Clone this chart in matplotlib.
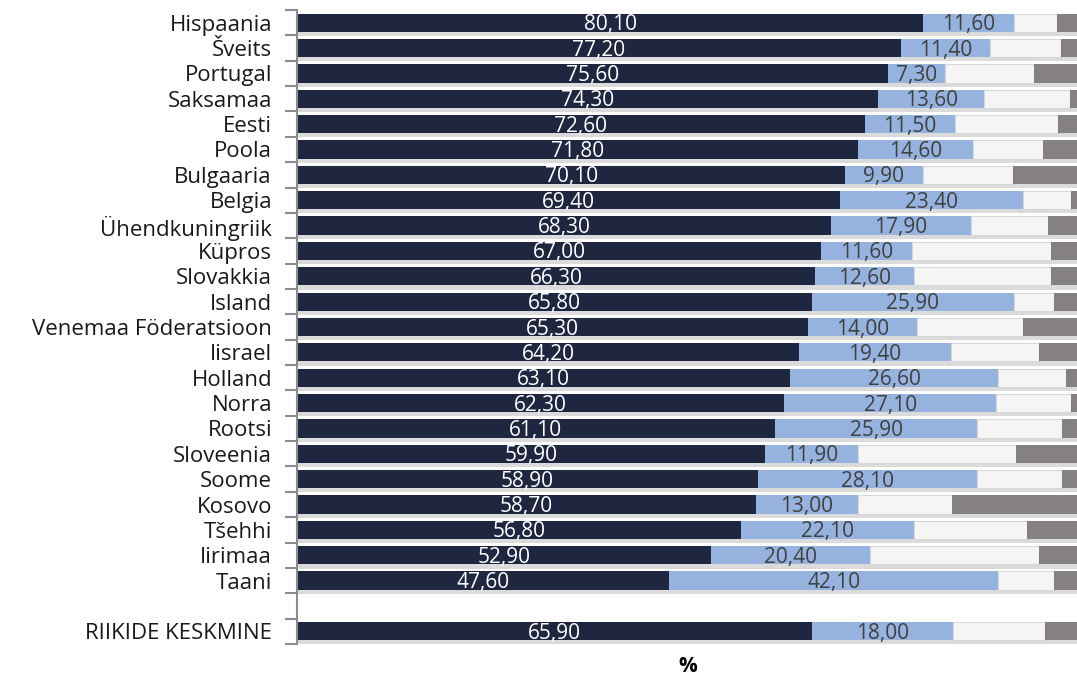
import matplotlib
matplotlib.use("Agg")
import matplotlib.pyplot as plt
import matplotlib.patheffects as pe
import numpy as np

countries = ["Hispaania", "Šveits", "Portugal", "Saksamaa", "Eesti", "Poola", "Bulgaaria",
             "Belgia", "Ühendkuningriik", "Küpros", "Slovakkia", "Island",
             "Venemaa Föderatsioon", "Iisrael", "Holland", "Norra", "Rootsi", "Sloveenia",
             "Soome", "Kosovo", "Tšehhi", "Iirimaa", "Taani", "", "RIIKIDE KESKMINE"]
seg1 = [80.1, 77.2, 75.6, 74.3, 72.6, 71.8, 70.1, 69.4, 68.3, 67.0, 66.3, 65.8,
        65.3, 64.2, 63.1, 62.3, 61.1, 59.9, 58.9, 58.7, 56.8, 52.9, 47.6, None, 65.9]
seg2 = [11.6, 11.4, 7.3, 13.6, 11.5, 14.6, 9.9, 23.4, 17.9, 11.6, 12.6, 25.9,
        14.0, 19.4, 26.6, 27.1, 25.9, 11.9, 28.1, 13.0, 22.1, 20.4, 42.1, None, 18.0]
seg3 = [5.5, 9.1, 11.3, 10.9, 13.2, 9.0, 11.6, 6.2, 9.8, 17.8, 17.5, 5.1,
        13.5, 11.3, 8.6, 9.6, 10.8, 20.1, 10.8, 12.1, 14.4, 21.6, 7.1, None, 11.7]
seg4 = [2.8, 2.3, 5.8, 1.2, 2.7, 4.6, 8.4, 1.0, 4.0, 3.6, 3.6, 3.2,
        7.2, 5.1, 1.7, 1.0, 2.2, 8.1, 2.2, 16.2, 6.7, 5.1, 3.2, None, 4.4]

def fmt(v):
    return f"{v:.2f}".replace(".", ",")

plt.rcParams['font.family'] = ['Open Sans', 'DejaVu Sans']

fig = plt.figure(figsize=(10.77, 6.77), dpi=100)
ax = fig.add_axes([297/1077, 1 - 644/677, 782/1077, 634/677])

c1, c2, c3, c4 = "#1f2740", "#95b3de", "#f5f5f5", "#858181"
h = 0.72
shadow = [pe.SimplePatchShadow(offset=(0, -3), shadow_rgbFace="#9a9a9a", alpha=0.35), pe.Normal()]

for i, name in enumerate(countries):
    if seg1[i] is None:
        continue
    a, b, c, d = seg1[i], seg2[i], seg3[i], seg4[i]
    ax.barh(i, a, height=h, left=0, color=c1, path_effects=shadow, zorder=2)
    ax.barh(i, b, height=h, left=a, color=c2, path_effects=shadow, zorder=2)
    ax.barh(i, c, height=h, left=a + b, color=c3, edgecolor="#d8d8d8", linewidth=0.8,
            path_effects=shadow, zorder=2)
    ax.barh(i, d, height=h, left=a + b + c, color=c4, path_effects=shadow, zorder=2)
    ax.text(a / 2, i + 0.08, fmt(a), ha="center", va="center", color="white", fontsize=15, zorder=3)
    ax.text(a + b / 2, i + 0.08, fmt(b), ha="center", va="center", color="#404040", fontsize=15, zorder=3)

ax.set_xlim(0, 100)
ax.set_ylim(len(countries) - 0.5, -0.5)
ax.set_yticks(range(len(countries)))
ax.set_yticklabels(countries, fontsize=16, color="#1a1a1a")
ax.tick_params(axis="y", which="major", length=0, pad=18)
ax.set_yticks(np.arange(-0.5, len(countries), 1.0), minor=True)
ax.tick_params(axis="y", which="minor", length=9, width=1.5, color="#8c8c8c")
ax.set_xticks([])
for s in ["top", "right", "bottom"]:
    ax.spines[s].set_visible(False)
ax.spines["left"].set_color("#8c8c8c")
ax.spines["left"].set_linewidth(1.5)

fig.text(688/1077, 1 - 666/677, "%", ha="center", va="center", fontsize=15, fontweight="bold")

fig.savefig("out.png", dpi=100)
